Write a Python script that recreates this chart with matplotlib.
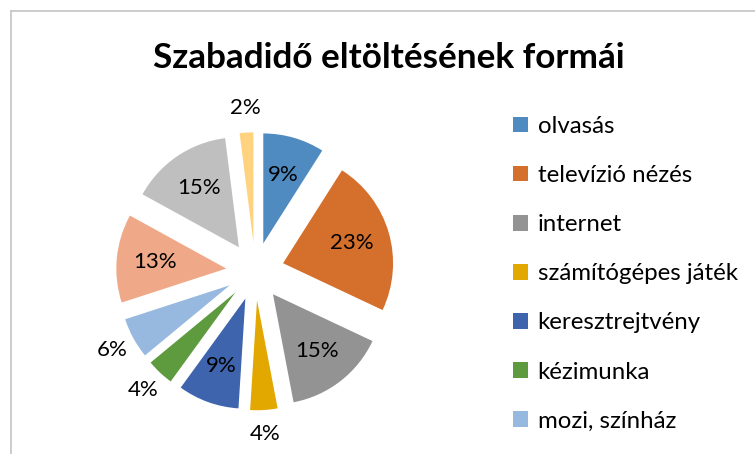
import matplotlib
matplotlib.use("Agg")
import matplotlib.pyplot as plt
import numpy as np
from matplotlib.lines import Line2D

categories = ["olvasás", "televízió nézés", "internet", "számítógépes játék",
              "keresztrejtvény", "kézimunka", "mozi, színház",
              "sport", "zenehallgatás", "egyéb"]
values = [9, 23, 15, 4, 9, 4, 6, 13, 15, 2]
colors = ["#4F8BC0", "#D46F2C", "#939393", "#E2A800", "#3D64AD",
          "#5E9A3E", "#97B9E0", "#F0A988", "#BFBFBF", "#FFD27F"]
legend_count = 7
title = "Szabadidő eltöltésének formái"

plt.rcParams['font.family'] = ['Lato', 'DejaVu Sans']

W, H = 755, 454
fig = plt.figure(figsize=(W / 100, H / 100), dpi=100)
ax = fig.add_axes([0, 0, 1, 1])

R = 110.0
cx, cy = 255.2, 271.3
explode_frac = 29.0 / R

wedges, _ = ax.pie(values, colors=colors, startangle=90, counterclock=False,
                   explode=[explode_frac] * len(values), radius=1.0,
                   wedgeprops=dict(linewidth=0))

total = sum(values)
for w, v in zip(wedges, values):
    th = np.deg2rad((w.theta1 + w.theta2) / 2)
    pct = 100 * v / total
    if pct >= 8:
        d = 0.65
    else:
        d = 1.22
    x = w.center[0] + d * w.r * np.cos(th)
    y = w.center[1] + d * w.r * np.sin(th)
    ax.text(x, y, f"{pct:.0f}%", ha="center", va="center", fontsize=16, color="#000000")

ax.set_xlim(-cx / R, (W - cx) / R)
ax.set_ylim((cy - H) / R, cy / R)
ax.set_aspect('auto')
ax.axis('off')

fig.text(389 / W, 1 - 58 / H, title, ha="center", va="center", fontsize=25.3,
         fontweight="bold", color="#000000")

# chart border (partially visible)
fig.add_artist(Line2D([10.5 / W, 10.5 / W], [0, 1 - 10.5 / H], transform=fig.transFigure,
                      color="#C8C8C8", linewidth=1.3))
fig.add_artist(Line2D([10.5 / W, 1], [1 - 10.5 / H, 1 - 10.5 / H], transform=fig.transFigure,
                      color="#C8C8C8", linewidth=1.3))

leg = fig.legend(wedges[:legend_count], categories[:legend_count],
                 loc="upper left", bbox_to_anchor=(513 / W, 1 - 116 / H),
                 frameon=False, fontsize=17.3, handlelength=0.62, handleheight=0.62,
                 handletextpad=0.4, labelspacing=1.17, borderaxespad=0, borderpad=0)

fig.savefig("out.png", dpi=100)
